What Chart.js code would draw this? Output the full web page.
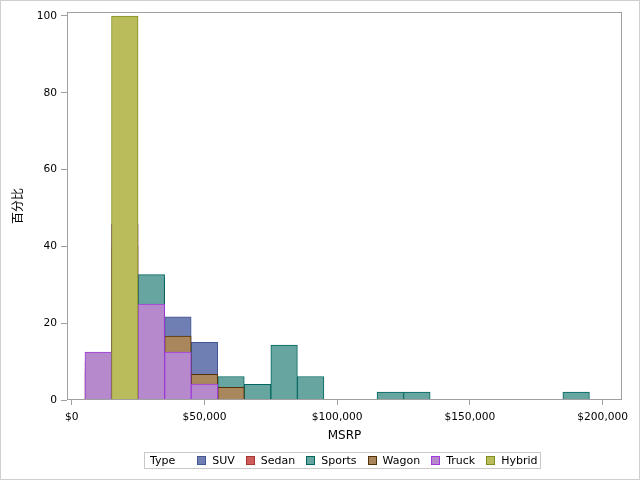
<!DOCTYPE html>
<html>
<head>
<meta charset="utf-8">
<script src="https://cdn.jsdelivr.net/npm/chart.js@4.4.1/dist/chart.umd.min.js"></script>
<style>
  html, body { margin: 0; padding: 0; background: #fff; }
  #wrap { position: relative; width: 640px; height: 480px; }
  #c { position: absolute; left: 0; top: 0; }
  #legend {
    position: absolute; left: 144px; top: 452px; width: 395px; height: 15px;
    border: 1px solid #c8c8c8; box-sizing: content-box;
    font-family: "DejaVu Sans", sans-serif; font-size: 11px; color: #000;
    display: flex; align-items: center; white-space: nowrap;
  }
  #legend .title { margin-left: 5px; margin-right: 22px; }
  #legend .item { display: flex; align-items: center; margin-right: 11px; }
  #legend .sw { width: 7px; height: 7px; border: 1px solid; margin-right: 6px; }
</style>
</head>
<body>
<div id="wrap">
  <canvas id="c" width="640" height="480"></canvas>
  <div id="legend"></div>
</div>
<script>
// Bin midpoints (MSRP, bin width $10,000)
const binCenters = [10000, 20000, 30000, 40000, 50000, 60000, 70000, 80000, 90000, 100000,
                    110000, 120000, 130000, 140000, 150000, 160000, 170000, 180000, 190000];
// Percent of each Type within each bin
const suv    = [null, 26.67, 31.67, 21.67, 15.00, 3.33, 1.67, null, null, null, null, null, null, null, null, null, null, null, null];
const sedan  = [7.25, 45.80, 29.39, 11.83, 4.20, 1.15, 0.38, null, null, null, null, null, null, null, null, null, null, null, null];
const sports = [null, 10.20, 32.65, 14.29, 6.12, 6.12, 4.08, 14.29, 6.12, null, null, 2.04, 2.04, null, null, null, null, null, 2.04];
const wagon  = [10.00, 40.00, 23.33, 16.67, 6.67, 3.33, null, null, null, null, null, null, null, null, null, null, null, null, null];
const truck  = [12.50, 45.83, 25.00, 12.50, 4.17, null, null, null, null, null, null, null, null, null, null, null, null, null, null];
const hybrid = [null, 100.00, null, null, null, null, null, null, null, null, null, null, null, null, null, null, null, null, null];

const typeNames = ["SUV", "Sedan", "Sports", "Wagon", "Truck", "Hybrid"];
const typeValues = [suv, sedan, sports, wagon, truck, hybrid];
const fillColors = ["#6F7EB3", "#D05B5B", "#66A5A0", "#A9865B", "#B689CD", "#BABC5C"];
const lineColors = ["#445694", "#A23A2E", "#01665E", "#543005", "#9D3CDB", "#7F8E1F"];

const xTicks = [0, 50000, 100000, 150000, 200000];
const yTicks = [0, 20, 40, 60, 80, 100];

const datasets = typeNames.map((name, i) => ({
  label: name,
  data: binCenters.map((x, j) => ({ x: x, y: typeValues[i][j] })),
  backgroundColor: fillColors[i],
  borderColor: lineColors[i],
  borderWidth: 1,
  borderSkipped: 'start',
  barPercentage: 1.0,
  categoryPercentage: 1.0,
  grouped: false,
  order: typeNames.length - i   // later types drawn on top
}));

const framePlugin = {
  id: 'frame',
  afterDatasetsDraw(chart) {
    const { ctx, chartArea: a } = chart;
    ctx.save();
    ctx.strokeStyle = '#a0a0a0';
    ctx.lineWidth = 1;
    ctx.strokeRect(a.left + 0.5, a.top + 0.5, a.right - a.left - 1, a.bottom - a.top - 1);
    ctx.restore();
  },
  afterDraw(chart) {
    const { ctx } = chart;
    ctx.save();
    ctx.strokeStyle = '#d0d0d0';
    ctx.lineWidth = 1;
    ctx.strokeRect(0.5, 0.5, chart.width - 1, chart.height - 1);
    ctx.restore();
  }
};

const tickFont = { family: "DejaVu Sans", size: 10.67 };

new Chart(document.getElementById('c'), {
  type: 'bar',
  data: { datasets },
  options: {
    responsive: false,
    animation: false,
    layout: { padding: { top: 12, right: 18, left: 0, bottom: 0 } },
    plugins: { legend: { display: false }, tooltip: { enabled: false } },
    scales: {
      x: {
        type: 'linear',
        min: -1770,
        max: 207270,
        offset: false,
        afterFit: s => { s.height = 80; },
        afterBuildTicks: s => { s.ticks = xTicks.map(v => ({ value: v })); },
        grid: { offset: false, drawOnChartArea: false, drawTicks: true, tickLength: 5, color: '#a0a0a0' },
        border: { display: false },
        ticks: {
          padding: 6, color: '#000', font: tickFont, maxRotation: 0, autoSkip: false,
          callback: v => '$' + Number(v).toLocaleString('en-US')
        },
        title: {
          display: true, text: 'MSRP', color: '#000',
          font: { family: "DejaVu Sans", size: 12 },
          padding: { top: 0, bottom: 37 }
        }
      },
      y: {
        min: 0,
        max: 101.04,
        afterFit: s => { s.width = 67; },
        afterBuildTicks: s => { s.ticks = yTicks.map(v => ({ value: v })); },
        grid: { offset: false, drawOnChartArea: false, drawTicks: true, tickLength: 6, color: '#a0a0a0' },
        border: { display: false },
        ticks: { padding: 4, color: '#000', font: tickFont },
        title: {
          display: true, text: '百分比', color: '#000',
          font: { family: "Noto Sans CJK SC", size: 12 },
          padding: { top: 10, bottom: 0 }
        }
      }
    }
  },
  plugins: [framePlugin]
});

// Legend (Type title + swatches)
const leg = document.getElementById('legend');
const t = document.createElement('span');
t.className = 'title'; t.textContent = 'Type';
leg.appendChild(t);
typeNames.forEach((name, i) => {
  const it = document.createElement('span'); it.className = 'item';
  const sw = document.createElement('span'); sw.className = 'sw';
  sw.style.background = fillColors[i]; sw.style.borderColor = lineColors[i];
  const tx = document.createElement('span'); tx.textContent = name;
  it.appendChild(sw); it.appendChild(tx);
  leg.appendChild(it);
});
</script>
</body>
</html>
